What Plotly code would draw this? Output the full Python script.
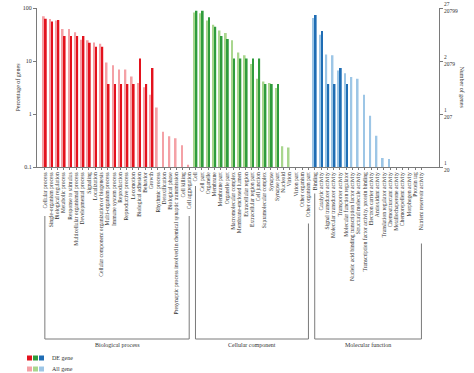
import plotly.graph_objects as go

# ---------------- data ----------------
bp_terms = ["Cellular process", "Single-organism process", "Biological regulation", "Metabolic process",
            "Response to stimulus", "Multicellular organismal process", "Developmental process", "Signaling",
            "Localization", "Cellular component organization or biogenesis", "Multi-organism process",
            "Immune system process", "Reproduction", "Reproductive process", "Locomotion",
            "Biological adhesion", "Behavior", "Growth", "Rhythmic process", "Detoxification",
            "Biological phase", "Presynaptic process involved in chemical synaptic transmission",
            "Cell killing", "Cell aggregation"]
cc_terms = ["Cell", "Cell part", "Organelle", "Membrane", "Membrane part", "Organelle part",
            "Macromolecular complex", "Membrane-enclosed lumen", "Extracellular region",
            "Extracellular region part", "Cell junction", "Supramolecular complex", "Synapse",
            "Synapse part", "Nucleoid", "Virion", "Virion part", "Other organism", "Other organism part"]
mf_terms = ["Binding", "Catalytic activity", "Signal transducer activity", "Molecular transducer activity",
            "Transporter activity", "Molecular function regulator",
            "Nucleic acid binding transcription factor activity", "Structural molecule activity",
            "Transcription factor activity, protein binding", "Electron carrier activity",
            "Antioxidant activity", "Translation regulator activity", "Chemoattractant activity",
            "Metallochaperone activity", "Chemorepellent activity", "Morphogen activity", "Protein tag",
            "Nutrient reservoir activity"]

# percentage of genes (All genes)
bp_all = [69.5, 62.0, 58.4, 40.2, 40.2, 34.7, 25.2, 24.5, 22.4, 21.2, 9.4, 8.3, 6.9, 6.9, 5.1,
          3.85, 3.2, 2.3, 1.33, 0.46, 0.38, 0.35, 0.256, 0.11]
cc_all = [82.6, 80.0, 58.4, 48.4, 37.8, 33.7, 24.5, 14.5, 12.8, 8.8, 4.6, 4.1, 3.85, 3.1,
          0.245, 0.234, None, None, None]
mf_all = [64.7, 31.3, 13.2, 12.8, 6.6, 5.9, 5.0, 4.6, 2.3, 0.93, 0.39, 0.148, 0.142,
          None, None, None, None, None]

# percentage of genes (DE genes)
bp_de = [63.0, 55.6, 59.3, 29.6, 29.6, 29.6, 29.6, 22.2, 18.5, 18.5, 3.7, 3.7, 3.7, 3.7, 3.7,
         11.1, 3.7, 7.4, None, None, None, None, None, None]
cc_de = [88.9, 88.9, 66.7, 44.4, 29.6, 25.9, 11.1, 11.1, 11.1, 11.1, 11.1, 3.7, 3.7, 3.7,
         None, None, None, None, None]
mf_de = [74.1, 37.0, 3.7, 3.7, 7.4, 3.7, None, None, None, None, None, None, None,
         None, None, None, None, None]

group_names = ["Biological process", "Cellular component", "Molecular function"]
left_tickvals = [0.1, 1, 10, 100]
left_ticktext = ["0.1", "1", "10", "100"]
right_ticktext = ["1<br>20", "1<br>207", "2<br>2079", "27<br>20799"]

# ---------------- style ----------------
dark_colors = ["#e3121d", "#2f9c3c", "#1f6db4"]
light_colors = ["#f4a1a6", "#a9d68e", "#9dc6e6"]
FONT = "Liberation Serif"
W, H = 474, 373
ML, MR, MT, MB = 37, 35, 8, 206
PH = H - MT - MB

groups = [bp_terms, cc_terms, mf_terms]
terms = bp_terms + cc_terms + mf_terms
all_vals = bp_all + cc_all + mf_all
de_vals = bp_de + cc_de + mf_de
xs = list(range(len(terms)))
all_cols, de_cols = [], []
for gi, g in enumerate(groups):
    all_cols += [light_colors[gi]] * len(g)
    de_cols += [dark_colors[gi]] * len(g)

fig = go.Figure()
fig.add_trace(go.Bar(x=xs, y=all_vals, marker=dict(color=all_cols, line=dict(width=0)),
                     name="All gene", showlegend=False))
fig.add_trace(go.Bar(x=xs, y=de_vals, marker=dict(color=de_cols, line=dict(width=0)),
                     name="DE gene", showlegend=False))
fig.add_trace(go.Scatter(x=[None], y=[None], yaxis="y2", showlegend=False, hoverinfo="skip"))

def py2paper(p):
    return (H - MB - p) / PH

shapes, annos = [], []
line_col = "#7a7a7a"
start = 0
fs_tick = 5.6
char_w = 2.5
for gi, g in enumerate(groups):
    first, last = start, start + len(g) - 1
    bottom = py2paper(339)
    for idx in (first, last):
        lab_end = 172 + len(terms[idx]) * char_w + 4
        shapes.append(dict(type="line", xref="x", yref="paper", x0=idx, x1=idx,
                           y0=py2paper(lab_end), y1=bottom, line=dict(color=line_col, width=1)))
    shapes.append(dict(type="line", xref="x", yref="paper", x0=first, x1=last,
                       y0=bottom, y1=bottom, line=dict(color=line_col, width=1)))
    annos.append(dict(x=(first + last) / 2, xref="x", y=py2paper(345), yref="paper",
                      text=group_names[gi], showarrow=False, xanchor="center", yanchor="middle",
                      font=dict(family=FONT, size=6, color="#333")))
    start = last + 1

# legend
def px2paper(p):
    return (p - ML) / (W - ML - MR)

for row, (cols, label) in enumerate([(dark_colors, "DE gene"), (light_colors, "All gene")]):
    cy = 358 + row * 11
    for ci, c in enumerate(cols):
        x0 = 27 + ci * 6
        shapes.append(dict(type="rect", xref="paper", yref="paper",
                           x0=px2paper(x0), x1=px2paper(x0 + 5),
                           y0=py2paper(cy + 2.5), y1=py2paper(cy - 2.5),
                           fillcolor=c, line=dict(width=0)))
    annos.append(dict(x=px2paper(50), xref="paper", y=py2paper(cy), yref="paper", text=label,
                      showarrow=False, xanchor="left", yanchor="middle",
                      font=dict(family=FONT, size=6, color="#333")))

# axis titles
annos.append(dict(x=px2paper(12), xref="paper", y=0.5, yref="paper", text="Percentage of genes",
                  textangle=-90, showarrow=False, font=dict(family=FONT, size=6, color="#333")))
annos.append(dict(x=px2paper(467), xref="paper", y=0.5, yref="paper", text="Number of genes",
                  textangle=90, showarrow=False, font=dict(family=FONT, size=6, color="#333")))

fig.update_layout(
    width=W, height=H,
    margin=dict(l=ML, r=MR, t=MT, b=MB, pad=0),
    paper_bgcolor="white", plot_bgcolor="white",
    barmode="group", bargap=0.36, bargroupgap=0.12,
    font=dict(family=FONT, size=6, color="#333"),
    shapes=shapes, annotations=annos,
    xaxis=dict(range=[-1.25, 62.8], tickmode="array", tickvals=xs, ticktext=terms,
               tickangle=-90, tickfont=dict(family=FONT, size=fs_tick, color="#333"),
               ticks="outside", ticklen=2, tickcolor=line_col, showline=True, linecolor=line_col,
               linewidth=1, showgrid=False, zeroline=False, automargin=False),
    yaxis=dict(type="log", range=[-1, 2], tickmode="array", tickvals=left_tickvals,
               ticktext=left_ticktext, ticks="outside", ticklen=3, tickcolor=line_col,
               showline=True, linecolor=line_col, linewidth=1, showgrid=False, zeroline=False,
               tickfont=dict(family=FONT, size=6, color="#333"), automargin=False),
    yaxis2=dict(type="log", range=[-1, 2], overlaying="y", side="right", tickmode="array",
                tickvals=left_tickvals, ticktext=right_ticktext, ticks="outside", ticklen=3,
                tickcolor=line_col, showline=True, linecolor=line_col, linewidth=1,
                showgrid=False, zeroline=False, tickfont=dict(family=FONT, size=5.5, color="#333"),
                automargin=False),
)

fig.write_html("out.html", config={"displayModeBar": False},
               post_script="document.body.style.margin='0';")
